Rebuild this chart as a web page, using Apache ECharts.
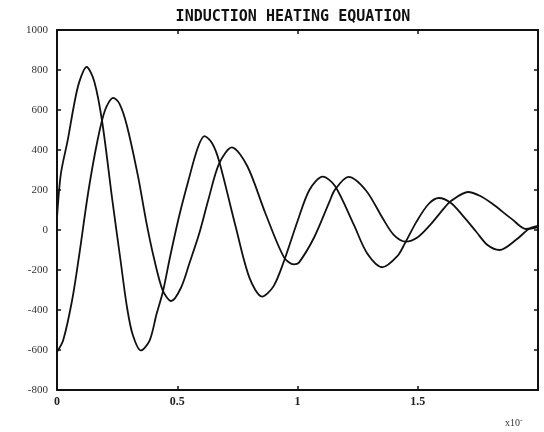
<!DOCTYPE html>
<html>
<head>
<meta charset="utf-8">
<script src="https://cdn.jsdelivr.net/npm/echarts@6/dist/echarts.min.js"></script>
<style>
  html, body { margin: 0; padding: 0; background: #fff; }
  #chart { width: 544px; height: 432px; }
</style>
</head>
<body>
<div id="chart"></div>
<script>
// curve A (first, higher peak)
var aX = [0, 0.016, 0.045, 0.07, 0.092, 0.123, 0.155, 0.188, 0.23, 0.264, 0.29, 0.314, 0.349, 0.385, 0.414, 0.44, 0.47, 0.508, 0.547, 0.585, 0.613, 0.645, 0.674, 0.743, 0.8, 0.853, 0.9, 0.944, 0.999, 1.05, 1.105, 1.156, 1.235, 1.29, 1.354, 1.415, 1.446, 1.495, 1.545, 1.588, 1.638, 1.69, 1.744, 1.79, 1.84, 1.91, 1.962, 2.0];
var aY = [60, 280, 452, 620, 738, 815, 743, 540, 150, -150, -378, -520, -602, -553, -420, -310, -135, 70, 250, 410, 469, 434, 345, 16, -238, -333, -282, -155, 40, 201, 267, 220, 24, -117, -186, -131, -68, 42, 130, 160, 135, 68, -10, -75, -100, -48, 5, 20];
// curve B (starts at -600)
var bX = [0, 0.026, 0.063, 0.093, 0.13, 0.168, 0.2, 0.234, 0.26, 0.29, 0.337, 0.372, 0.405, 0.44, 0.475, 0.515, 0.551, 0.591, 0.629, 0.674, 0.727, 0.791, 0.866, 0.944, 0.985, 1.006, 1.07, 1.133, 1.156, 1.212, 1.284, 1.356, 1.4, 1.45, 1.5, 1.55, 1.615, 1.638, 1.709, 1.76, 1.809, 1.893, 1.95, 2.0];
var bY = [-610, -550, -350, -120, 190, 445, 600, 661, 631, 525, 268, 36, -150, -303, -355, -290, -165, -19, 150, 332, 413, 320, 85, -137, -172, -163, -35, 142, 202, 266, 199, 55, -24, -58, -36, 23, 117, 145, 190, 170, 132, 53, 5, 15];

var xTicks = [0, 0.5, 1, 1.5, 2];
var yTicks = [1000, 800, 600, 400, 200, 0, -200, -400, -600, -800];

function pairs(xs, ys) {
    var out = [];
    for (var i = 0; i < xs.length; i++) {
        out.push([xs[i], ys[i]]);
    }
    return out;
}

var chart = echarts.init(document.getElementById('chart'));
var lineStyle = { color: '#111', width: 1.8 };
var axisLine = { show: true, onZero: false, lineStyle: { color: '#111', width: 2 } };
var tick = { show: true, inside: true, length: 4, lineStyle: { color: '#111', width: 1.5 } };

var option = {
    backgroundColor: '#fff',
    animation: false,
    title: {
        text: 'INDUCTION HEATING EQUATION',
        left: 288,
        top: 5,
        textAlign: 'center',
        textStyle: { fontFamily: 'DejaVu Sans Mono', fontSize: 15, fontWeight: 'bold', color: '#111' }
    },
    grid: { left: 57, right: 6, top: 30, bottom: 42 },
    xAxis: [{
        type: 'value',
        min: xTicks[0], max: xTicks[xTicks.length - 1], interval: 0.5,
        axisLine: axisLine,
        axisTick: tick,
        splitLine: { show: false },
        axisLabel: {
            margin: 6,
            fontFamily: 'Liberation Serif', fontSize: 12, fontWeight: 'bold', color: '#222',
            formatter: function (v) { return v === 2 ? '' : String(v); }
        }
    }, {
        type: 'value', position: 'top',
        min: xTicks[0], max: xTicks[xTicks.length - 1], interval: 0.5,
        axisLine: axisLine,
        axisTick: tick,
        axisLabel: { show: false },
        splitLine: { show: false }
    }],
    yAxis: [{
        type: 'value',
        min: yTicks[yTicks.length - 1], max: yTicks[0], interval: 200,
        axisLine: axisLine,
        axisTick: tick,
        splitLine: { show: false },
        axisLabel: {
            margin: 9,
            fontFamily: 'Liberation Serif', fontSize: 11, color: '#333',
            formatter: function (v) { return String(v); }
        }
    }, {
        type: 'value', position: 'right',
        min: yTicks[yTicks.length - 1], max: yTicks[0], interval: 200,
        axisLine: axisLine,
        axisTick: tick,
        axisLabel: { show: false },
        splitLine: { show: false }
    }],
    graphic: [{
        type: 'text',
        left: 505, top: 416,
        style: {
            text: 'x10{s|-}',
            rich: { s: { fontSize: 8, verticalAlign: 'top', padding: [0, 0, 6, 0] } },
            font: '10px "Liberation Serif"',
            fill: '#333'
        }
    }],
    series: [{
        type: 'line',
        data: pairs(aX, aY),
        smooth: 0.3,
        showSymbol: false,
        lineStyle: lineStyle
    }, {
        type: 'line',
        data: pairs(bX, bY),
        smooth: 0.3,
        showSymbol: false,
        lineStyle: lineStyle
    }]
};
chart.setOption(option);
</script>
</body>
</html>
